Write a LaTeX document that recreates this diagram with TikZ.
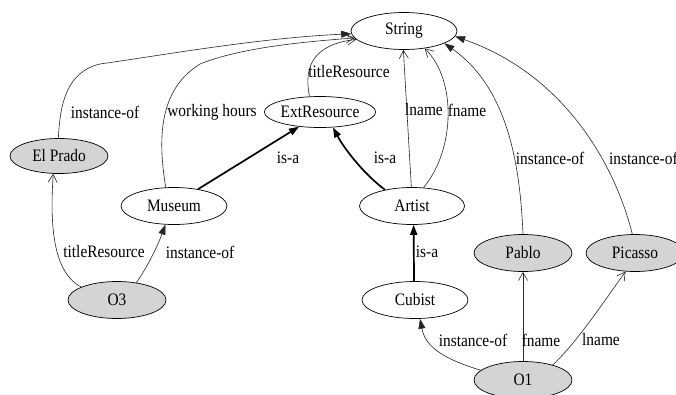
\documentclass[tikz,border=0pt]{standalone}
\usepackage{fontspec}
\usepackage{graphicx}
\setmainfont{Liberation Serif}
\usetikzlibrary{shapes.geometric,arrows.meta}
% narrow serif lettering used for every text
\newcommand\narrowtext[1]{\scalebox{0.88}[1]{#1}}
\begin{document}
\begin{tikzpicture}[x=1pt,y=-1pt,
  concept/.style={ellipse, draw=black, line width=0.7pt, inner sep=0pt,
    minimum width=106pt, minimum height=37pt, font=\rmfamily\fontsize{17.5}{20}\selectfont},
  inst/.style={concept, fill=black!17, minimum width=98pt},
  lbl/.style={inner sep=0pt, font=\rmfamily\fontsize{17.5}{20}\selectfont},
  rel/.style={draw=black!85, line width=0.6pt},
  prop/.style={rel, -{Straight Barb[length=8pt,width=9pt,line width=0.6pt]}},
  instof/.style={rel, -{Triangle[length=10pt,width=7pt]}},
  isa/.style={draw=black, line width=1.7pt, -{Triangle[length=10pt,width=7pt]}}]
\useasboundingbox (0,0) rectangle (676,394);
\clip (0,0) rectangle (676,394);
\fill[white] (0,0) rectangle (676,394);

% classes
\node[concept] (string) at (404,31) {\narrowtext{String}};
\node[concept, minimum height=31pt] (ext) at (320,112) {\narrowtext{ExtResource}};
\node[concept] (museum) at (174,206) {\narrowtext{Museum}};
\node[concept, minimum width=105pt] (artist) at (412,206) {\narrowtext{Artist}};
\node[concept] (cubist) at (415,300) {\narrowtext{Cubist}};

% instances
\node[inst, minimum height=35pt] (elprado) at (59,156) {\narrowtext{El Prado}};
\node[inst] (o3) at (117,300) {\narrowtext{O3}};
\node[inst] (pablo) at (523,253) {\narrowtext{Pablo}};
\node[inst] (picasso) at (635,253) {\narrowtext{Picasso}};
\node[inst] (o1) at (523,380) {\narrowtext{O1}};

% edges into String
\draw[instof] (elprado.92) .. controls (60,105) and (66,72) .. (100,64)
  .. controls (170,54) and (260,38) .. (string.183);
\draw[prop] (museum.114) .. controls (158,140) and (158,90) .. (200,64)
  .. controls (240,48) and (300,42) .. (string.188);
\draw[prop] (ext.124) .. controls (303,65) and (315,44) .. (string.190);
\draw[prop] (artist.92) -- (string.268);
\draw[prop] (artist.58) .. controls (455,150) and (457,80) .. (string.320);
\draw[instof] (pablo.90) .. controls (520,165) and (508,88) .. (string.343);
\draw[instof] (picasso.98) .. controls (615,165) and (565,75) .. (string.354);

% class hierarchy
\draw[isa] (museum.35) -- (ext.215);
\draw[isa] (artist.149) .. controls (365,175) and (345,150) .. (ext.310);
\draw[isa] (cubist.93) -- (artist.275);

% instance relations
\draw[prop] (o3.160) .. controls (52,272) and (50,222) .. (elprado.252);
\draw[instof] (o3.42) .. controls (147,268) and (158,245) .. (museum.245);
\draw[instof] (o1.167) .. controls (440,358) and (425,345) .. (cubist.285);
\draw[prop] (o1.90) -- (pablo.270);
\draw[prop] (o1.27) .. controls (575,345) and (605,300) .. (picasso.243);

% edge labels
\node[lbl] (l1) at (105,112) {\narrowtext{instance-of}};
\node[lbl] (l2) at (212,112) {\narrowtext{working hours}};
\node[lbl] (l3) at (349,72) {\narrowtext{titleResource}};
\node[lbl] (l4) at (288,158) {\narrowtext{is-a}};
\node[lbl] (l5) at (385,158) {\narrowtext{is-a}};
\node[lbl] (l6) at (424,110) {\narrowtext{lname}};
\node[lbl] (l7) at (467,110) {\narrowtext{fname}};
\node[lbl] (l8) at (550,158) {\narrowtext{instance-of}};
\node[lbl, anchor=west] (l9) at (609,158) {\narrowtext{instance-of}};
\node[lbl] (l10) at (427,252) {\narrowtext{is-a}};
\node[lbl] (l11) at (473,340) {\narrowtext{instance-of}};
\node[lbl] (l12) at (541,340) {\narrowtext{fname}};
\node[lbl] (l13) at (601,340) {\narrowtext{lname}};
\node[lbl] (l14) at (104,252) {\narrowtext{titleResource}};
\node[lbl] (l15) at (200,252) {\narrowtext{instance-of}};
\end{tikzpicture}
\end{document}
